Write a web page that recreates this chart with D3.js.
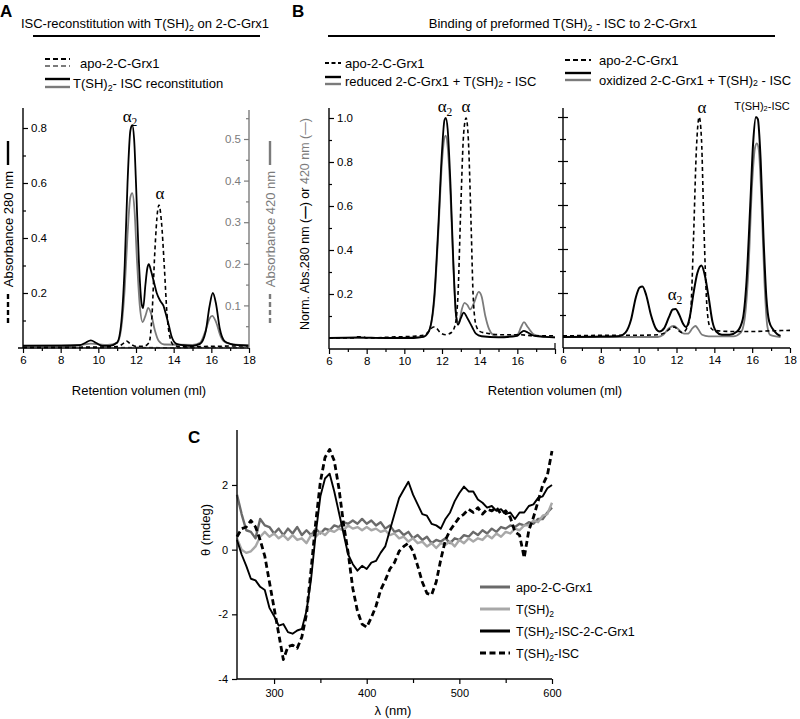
<!DOCTYPE html>
<html><head><meta charset="utf-8">
<script src="https://cdn.jsdelivr.net/npm/d3@7/dist/d3.min.js"></script>
<style>
body{margin:0;background:#fff}
svg{font-family:"Liberation Sans",Arial,sans-serif}
</style>
</head><body>
<svg id="fig" width="800" height="719"></svg>
<script>
// ---- panel A : ISC reconstitution (retention ml, absorbance) ----
const aRecon280 = [[6,0.008],[7,0.008],[8,0.008],[9,0.01],[9.3,0.018],[9.6,0.028],[9.9,0.018],[10.2,0.008],[10.6,0.008],[11.0,0.02],[11.2,0.08],[11.4,0.3],[11.55,0.6],[11.7,0.79],[11.8,0.81],[11.9,0.76],[12.0,0.6],[12.15,0.32],[12.3,0.16],[12.38,0.145],[12.5,0.23],[12.6,0.29],[12.68,0.305],[12.8,0.28],[12.95,0.24],[13.1,0.2],[13.3,0.17],[13.45,0.155],[13.6,0.12],[13.75,0.08],[13.9,0.04],[14.15,0.015],[14.5,0.01],[15.0,0.008],[15.4,0.015],[15.7,0.06],[15.9,0.15],[16.08,0.2],[16.25,0.16],[16.45,0.07],[16.7,0.025],[17,0.015],[17.5,0.01],[18,0.008]];
const aRecon420 = [[6,0.004],[9,0.005],[9.6,0.008],[10.5,0.005],[11,0.01],[11.2,0.04],[11.4,0.14],[11.55,0.27],[11.7,0.36],[11.8,0.37],[11.92,0.33],[12.05,0.21],[12.2,0.1],[12.35,0.06],[12.5,0.075],[12.65,0.094],[12.8,0.08],[13.0,0.04],[13.2,0.015],[13.5,0.006],[15,0.005],[15.4,0.01],[15.7,0.04],[15.9,0.068],[16.05,0.075],[16.25,0.06],[16.5,0.025],[16.8,0.01],[17.5,0.005],[18,0.005]];
const aApo280 = [[6,0.003],[9,0.003],[11,0.005],[11.3,0.015],[11.5,0.025],[11.7,0.015],[12.0,0.006],[12.4,0.006],[12.7,0.02],[12.85,0.12],[13.0,0.35],[13.15,0.5],[13.22,0.52],[13.35,0.46],[13.5,0.3],[13.65,0.12],[13.8,0.04],[14.0,0.01],[14.5,0.004],[16,0.006],[18,0.008]];
const aApo420 = [[6,-0.002],[10,-0.002],[12,-0.001],[14,-0.002],[16,-0.001],[18,-0.002]];

// ---- panel B : preformed T(SH)2-ISC, normalised ----
const bRedApo = [[6,0],[7.3,0],[7.5,0.005],[7.8,0.005],[8,0],[9.5,0.005],[10.5,0.008],[11.0,0.012],[11.3,0.03],[11.55,0.05],[11.7,0.045],[11.9,0.025],[12.2,0.015],[12.5,0.025],[12.7,0.06],[12.85,0.2],[13.0,0.6],[13.15,0.93],[13.28,1.0],[13.4,0.9],[13.55,0.5],[13.65,0.2],[13.8,0.06],[14.0,0.03],[14.5,0.02],[15,0.015],[16,0.015],[17,0.01],[18,0.01]];
const bRed280 = [[6,0],[7.5,0.003],[9,0],[10.5,0],[11.0,0.005],[11.3,0.03],[11.6,0.2],[11.8,0.5],[12.0,0.85],[12.13,0.99],[12.2,1.0],[12.3,0.95],[12.45,0.7],[12.6,0.35],[12.75,0.1],[12.85,0.06],[13.0,0.09],[13.15,0.115],[13.35,0.09],[13.6,0.05],[13.8,0.02],[14.1,0.008],[15,0.003],[16,0.01],[16.2,0.025],[16.35,0.032],[16.55,0.025],[16.9,0.01],[17.5,0.005],[18,0.003]];
const bRed420 = [[6,0],[9,0],[11.0,0.005],[11.3,0.03],[11.6,0.18],[11.8,0.47],[12.0,0.8],[12.13,0.91],[12.2,0.92],[12.3,0.87],[12.45,0.65],[12.6,0.33],[12.75,0.1],[12.9,0.07],[13.05,0.13],[13.2,0.16],[13.35,0.15],[13.5,0.13],[13.7,0.16],[13.95,0.21],[14.1,0.19],[14.3,0.1],[14.5,0.04],[14.7,0.015],[15,0.005],[16,0.015],[16.2,0.05],[16.35,0.072],[16.55,0.05],[16.9,0.015],[17.5,0.005],[18,0.003]];
const bOxApo = [[6,0.005],[9,0.008],[10,0.008],[11,0.01],[11.4,0.02],[11.7,0.04],[11.9,0.045],[12.1,0.03],[12.3,0.02],[12.55,0.04],[12.75,0.12],[12.9,0.45],[13.05,0.85],[13.2,1.0],[13.32,0.9],[13.45,0.5],[13.6,0.15],[13.75,0.05],[14.0,0.03],[15,0.025],[16,0.025],[17,0.028],[18,0.03]];
const bOx280 = [[6,0],[8,0.002],[9,0.005],[9.3,0.02],[9.6,0.08],[9.85,0.18],[10.05,0.225],[10.2,0.23],[10.4,0.19],[10.65,0.1],[10.9,0.04],[11.1,0.025],[11.35,0.04],[11.6,0.09],[11.8,0.125],[11.95,0.127],[12.15,0.1],[12.35,0.06],[12.5,0.045],[12.7,0.09],[12.9,0.2],[13.1,0.29],[13.32,0.325],[13.5,0.28],[13.7,0.18],[13.9,0.07],[14.1,0.025],[14.4,0.01],[14.8,0.01],[15.2,0.025],[15.5,0.08],[15.7,0.25],[15.9,0.6],[16.05,0.88],[16.2,1.0],[16.3,0.99],[16.45,0.8],[16.6,0.45],[16.75,0.18],[16.9,0.07],[17.1,0.035],[17.3,0.015],[17.5,0.005]];
const bOx420 = [[6,0],[11.0,0],[11.3,0.01],[11.6,0.04],[11.85,0.05],[12.1,0.035],[12.4,0.015],[12.6,0.015],[12.85,0.04],[13.0,0.05],[13.15,0.035],[13.35,0.01],[13.7,0.003],[15,0.003],[15.4,0.02],[15.6,0.08],[15.8,0.3],[16.0,0.7],[16.15,0.86],[16.25,0.88],[16.35,0.85],[16.5,0.6],[16.65,0.25],[16.8,0.05],[16.95,0.01],[17.5,0]];

// ---- panel C : CD spectra (nm, mdeg) ----
const wavelengths = [260,265,270,275,280,285,290,295,300,305,310,315,320,325,330,335,340,345,350,355,360,365,370,375,380,385,390,395,400,405,410,415,420,425,430,435,440,445,450,455,460,465,470,475,480,485,490,495,500,505,510,515,520,525,530,535,540,545,550,555,560,565,570,575,580,585,590,595,600];
const cdApo = [1.7,1.1,0.6,0.55,0.35,0.95,0.75,0.7,0.5,0.65,0.45,0.65,0.5,0.7,0.45,0.6,0.45,0.65,0.5,0.65,0.6,0.75,0.7,0.85,0.8,0.9,0.8,0.95,0.8,0.9,0.75,0.85,0.65,0.75,0.55,0.6,0.45,0.55,0.35,0.45,0.3,0.4,0.2,0.3,0.25,0.35,0.2,0.35,0.3,0.45,0.4,0.55,0.45,0.6,0.5,0.65,0.55,0.7,0.65,0.75,0.7,0.8,0.75,0.85,0.8,0.95,0.95,1.15,1.3];
const cdTSH = [0.35,0.0,-0.1,-0.05,0.1,0.4,0.55,0.4,0.5,0.35,0.45,0.3,0.45,0.3,0.35,0.2,0.45,0.4,0.55,0.45,0.6,0.55,0.65,0.6,0.75,0.65,0.7,0.6,0.7,0.6,0.65,0.55,0.6,0.45,0.5,0.35,0.4,0.25,0.35,0.2,0.25,0.1,0.2,0.05,0.2,0.15,0.25,0.1,0.3,0.2,0.35,0.25,0.35,0.3,0.45,0.35,0.5,0.4,0.55,0.5,0.65,0.6,0.75,0.75,0.9,0.85,1.05,1.1,1.45];
const cdIscGrx = [0.3,-0.15,-0.5,-0.9,-0.95,-1.15,-1.25,-1.8,-2.05,-2.35,-2.3,-2.55,-2.6,-2.5,-2.45,-1.9,-0.9,0.5,1.65,2.2,2.35,1.8,1.15,0.5,-0.15,-0.45,-0.65,-0.5,-0.6,-0.4,-0.35,-0.1,0.1,0.6,1.1,1.6,1.85,2.1,1.7,1.4,1.1,1.05,0.8,0.75,0.65,0.95,1.15,1.5,1.75,1.95,1.8,1.8,1.55,1.45,1.3,1.35,1.2,1.25,1.1,1.15,0.95,1.15,1.15,1.35,1.4,1.6,1.65,1.9,2.0];
const cdIsc = [0.4,0.65,0.7,0.9,0.7,0.3,-0.2,-1.0,-1.8,-2.6,-3.4,-3.0,-2.95,-3.05,-2.7,-2.0,-0.6,0.85,2.1,2.85,3.1,2.75,1.9,0.8,-0.1,-1.2,-1.9,-2.3,-2.4,-2.1,-1.75,-1.25,-0.95,-0.6,-0.4,-0.05,0.1,0.2,-0.05,-0.5,-1.0,-1.35,-1.4,-1.0,-0.3,0.3,0.6,0.8,1.0,1.1,1.25,1.15,1.3,1.1,1.25,1.2,1.3,1.1,1.2,1.0,0.55,0.45,-0.25,0.6,1.0,1.5,2.0,2.3,3.05];

const volTicks = [6,8,10,12,14,16,18];
const volMinor = [7,9,11,13,15,17];
const cdXTicks = [300,400,500,600];
const cdXMinor = [350,450,550];
const cdYTicks = [-4,-2,0,2];

const GREY = "#7b7b7b";
const svg = d3.select("#fig");

function txt(g, x, y, segs, o) {
  o = o || {};
  const t = g.append("text").attr("x", x).attr("y", y)
    .attr("font-size", o.size || 12.5).attr("fill", o.fill || "#000")
    .attr("text-anchor", o.anchor || "start");
  if (o.family) t.attr("font-family", o.family);
  if (o.weight) t.attr("font-weight", o.weight);
  if (o.rotate) t.attr("transform", "rotate(" + o.rotate + "," + x + "," + y + ")");
  segs.forEach(s => {
    if (typeof s === "string") { t.append("tspan").text(s); return; }
    const sp = t.append("tspan").text(s.t);
    if (s.sub) sp.attr("font-size", "0.68em").attr("dy", s.sub);
    if (s.fill) sp.attr("fill", s.fill);
    if (s.bold) sp.attr("font-weight", "bold");
    if (s.dy) sp.attr("dy", s.dy);
  });
  return t;
}
function seg(g, x1, y1, x2, y2, c, w, dash) {
  const l = g.append("line").attr("x1", x1).attr("y1", y1).attr("x2", x2).attr("y2", y2)
    .attr("stroke", c).attr("stroke-width", w || 1.5);
  if (dash) l.attr("stroke-dasharray", dash);
  return l;
}
function curve(g, data, x, y, c, w, dash, kind) {
  const p = g.append("path").datum(data)
    .attr("d", d3.line().x(d => x(d[0])).y(d => y(d[1])).curve(kind || d3.curveMonotoneX))
    .attr("fill", "none").attr("stroke", c).attr("stroke-width", w)
    .attr("stroke-linejoin", "round");
  if (dash) p.attr("stroke-dasharray", dash);
}
function tidy(sel, c, size) {
  sel.select(".domain").remove();
  sel.selectAll(".tick line").attr("stroke", c).attr("stroke-width", 1.2);
  sel.selectAll(".tick text").attr("fill", c).attr("font-size", size || 11.5)
    .attr("font-family", "Liberation Sans, Arial, sans-serif");
}
function volAxis(g, x, yPos, labelled) {
  const a = g.append("g").attr("transform", "translate(0," + yPos + ")")
    .call(d3.axisBottom(x).tickValues(volTicks).tickSize(5).tickPadding(3)
      .tickFormat(d => labelled.includes(d) ? d : ""));
  tidy(a, "#000");
  const m = g.append("g").attr("transform", "translate(0," + yPos + ")")
    .call(d3.axisBottom(x).tickValues(volMinor).tickSize(3).tickFormat(""));
  tidy(m, "#000");
}
function yTicks(g, axisFn, y, xPos, major, minor, c, labels) {
  const a = g.append("g").attr("transform", "translate(" + xPos + ",0)")
    .call(axisFn(y).tickValues(major).tickSize(5).tickPadding(3)
      .tickFormat(labels ? d3.format(".1f") : ""));
  tidy(a, c);
  const m = g.append("g").attr("transform", "translate(" + xPos + ",0)")
    .call(axisFn(y).tickValues(minor).tickSize(3).tickFormat(""));
  tidy(m, c);
}

// ---------------- Panel A ----------------
const gA = svg.append("g");
txt(gA, 0, 17, ["A"], {size: 17, weight: "bold"});
txt(gA, 145, 28, ["ISC-reconstitution with T(SH)", {t: "2", sub: 3}, {t: " on 2-C-Grx1", dy: -3}], {size: 13, anchor: "middle"});
seg(gA, 33, 36, 260, 36, "#000", 2);
seg(gA, 45, 59, 70, 59, "#000", 2, "5,3");
seg(gA, 45, 66, 70, 66, GREY, 2, "5,3");
txt(gA, 80, 68, ["apo-2-C-Grx1"], {size: 13});
seg(gA, 45, 79, 70, 79, "#000", 2.4);
seg(gA, 45, 87, 70, 87, GREY, 2.4);
txt(gA, 73, 88, ["T(SH)", {t: "2", sub: 3}, {t: "- ISC reconstitution", dy: -3}], {size: 13});

const xA = d3.scaleLinear().domain([6, 18]).range([23, 249]);
const yA = d3.scaleLinear().domain([0, 0.8]).range([348, 128]);
const yA2 = d3.scaleLinear().domain([0, 0.5]).range([347, 139]);

curve(gA, aApo420, xA, yA2, GREY, 1.6, "4,3");
curve(gA, aRecon420, xA, yA2, GREY, 1.8);
curve(gA, aApo280, xA, yA, "#000", 1.6, "4,3");
curve(gA, aRecon280, xA, yA, "#000", 1.8);

seg(gA, 18, 348, 249, 348, "#000", 1.4);
seg(gA, 23, 348, 23, 108, "#000", 1.4);
seg(gA, 249, 348, 249, 110, GREY, 1.4);
volAxis(gA, xA, 348, volTicks);
yTicks(gA, d3.axisRight, yA, 23, [0.2, 0.4, 0.6, 0.8], [0.1, 0.3, 0.5, 0.7], "#000", true);
yTicks(gA, d3.axisLeft, yA2, 249, [0.1, 0.2, 0.3, 0.4, 0.5], [0.05, 0.15, 0.25, 0.35, 0.45, 0.55], GREY, true);

txt(gA, 139, 395, ["Retention volumen (ml)"], {size: 13, anchor: "middle"});
// y labels with line glyphs
function yLabel(g, x, cy, label, c) {
  const r = g.append("g").attr("transform", "translate(" + x + "," + cy + ") rotate(-90)");
  txt(r, 0, 5, [label], {size: 13, anchor: "middle", fill: c});
  seg(r, -94, 0, -65, 0, c, 2.4, "5,3");
  seg(r, 64, 0, 88, 0, c, 2.4);
}
yLabel(gA, 8, 229, "Absorbance 280 nm", "#000");
yLabel(gA, 270, 229, "Absorbance 420 nm", GREY);

txt(gA, 130, 122, ["α", {t: "2", sub: 4}], {size: 17, anchor: "middle", family: "Liberation Serif, serif"});
txt(gA, 160, 199, ["α"], {size: 17, anchor: "middle", family: "Liberation Serif, serif"});

// ---------------- Panel B ----------------
const gB = svg.append("g");
txt(gB, 292, 17, ["B"], {size: 17, weight: "bold"});
txt(gB, 563, 28, ["Binding of preformed T(SH)", {t: "2", sub: 3}, {t: " - ISC to 2-C-Grx1", dy: -3}], {size: 13, anchor: "middle"});
seg(gB, 328, 36, 775, 36, "#000", 2);

seg(gB, 325, 63, 341, 63, "#000", 2, "4,2.5");
txt(gB, 345, 68, ["apo-2-C-Grx1"], {size: 13});
seg(gB, 325, 77, 341, 77, "#000", 2.4);
seg(gB, 325, 84, 341, 84, GREY, 2.4);
txt(gB, 345, 86, ["reduced 2-C-Grx1 + T(SH)", {t: "2", sub: 1}, {t: " - ISC", dy: -1}], {size: 13});

seg(gB, 565, 60, 591, 60, "#000", 2, "5,3");
txt(gB, 599, 65, ["apo-2-C-Grx1"], {size: 13});
seg(gB, 565, 73, 591, 73, "#000", 2.4);
seg(gB, 565, 80, 591, 80, GREY, 2.4);
txt(gB, 599, 85, ["oxidized 2-C-Grx1 + T(SH)", {t: "2", sub: 1}, {t: " - ISC", dy: -1}], {size: 13});

const xB1 = d3.scaleLinear().domain([6, 18]).range([329, 555]);
const yB1 = d3.scaleLinear().domain([0, 1]).range([338, 118]);
const xB2 = d3.scaleLinear().domain([6, 18]).range([563, 790]);
const yB2 = d3.scaleLinear().domain([0, 1]).range([337, 117]);

curve(gB, bRed420, xB1, yB1, GREY, 1.8);
curve(gB, bRed280, xB1, yB1, "#000", 1.8);
curve(gB, bRedApo, xB1, yB1, "#000", 1.6, "4,3");
curve(gB, bOx420, xB2, yB2, GREY, 1.8);
curve(gB, bOx280, xB2, yB2, "#000", 2);
curve(gB, bOxApo, xB2, yB2, "#000", 1.6, "4,3");

seg(gB, 329, 349, 555, 349, "#000", 1.4);
seg(gB, 555, 349, 555, 343, "#000", 1.2);
seg(gB, 329, 349, 329, 108, "#000", 1.4);
volAxis(gB, xB1, 349, [6, 8, 10, 12, 14, 16]);
yTicks(gB, d3.axisRight, yB1, 329, [0.2, 0.4, 0.6, 0.8, 1.0], [0.1, 0.3, 0.5, 0.7, 0.9], "#000", true);

seg(gB, 563, 348, 790, 348, "#000", 1.4);
seg(gB, 563, 348, 563, 108, "#000", 1.4);
volAxis(gB, xB2, 348, volTicks);
yTicks(gB, d3.axisRight, yB2, 563, [0.2, 0.4, 0.6, 0.8, 1.0], [0.1, 0.3, 0.5, 0.7, 0.9], "#000", false);
yTicks(gB, d3.axisLeft, yB2, 563, [0.2, 0.4, 0.6, 0.8, 1.0], [0.1, 0.3, 0.5, 0.7, 0.9], "#000", false);

txt(gB, 555, 395, ["Retention volumen (ml)"], {size: 13, anchor: "middle"});
txt(gB, 309, 224, ["Norm. Abs.280 nm (", {t: "—", bold: true}, ") or ", {t: "420 nm (—)", fill: GREY}],
  {size: 12.5, anchor: "middle", rotate: -90});

const serif = "Liberation Serif, serif";
txt(gB, 445, 112, ["α", {t: "2", sub: 4}], {size: 17, anchor: "middle", family: serif});
txt(gB, 466, 112, ["α"], {size: 17, anchor: "middle", family: serif});
txt(gB, 702, 113, ["α"], {size: 17, anchor: "middle", family: serif});
txt(gB, 675, 300, ["α", {t: "2", sub: 4}], {size: 17, anchor: "middle", family: serif});
txt(gB, 762, 110, ["T(SH)", {t: "2", sub: 1}, {t: "-ISC", dy: -1}], {size: 11, anchor: "middle"});

// ---------------- Panel C ----------------
const gC = svg.append("g");
txt(gC, 188, 443, ["C"], {size: 17, weight: "bold"});
const xC = d3.scaleLinear().domain([260, 600]).range([237, 552]);
const yC = d3.scaleLinear().domain([-4, 3.7]).range([679, 430]);
const pts = s => wavelengths.map((w, i) => [w, s[i]]);

curve(gC, pts(cdApo), xC, yC, "#6a6a6a", 2.4, null, d3.curveLinear);
curve(gC, pts(cdTSH), xC, yC, "#a8a8a8", 2.4, null, d3.curveLinear);
curve(gC, pts(cdIscGrx), xC, yC, "#000", 1.9, null, d3.curveLinear);
curve(gC, pts(cdIsc), xC, yC, "#000", 2.8, "6,3.5", d3.curveLinear);

seg(gC, 237, 679, 552, 679, "#000", 1.4);
seg(gC, 237, 679, 237, 430, "#000", 1.4);
const cx = gC.append("g").attr("transform", "translate(0,679)")
  .call(d3.axisBottom(xC).tickValues(cdXTicks).tickSize(5).tickPadding(5));
tidy(cx, "#000", 11);
const cxm = gC.append("g").attr("transform", "translate(0,679)")
  .call(d3.axisBottom(xC).tickValues(cdXMinor).tickSize(4).tickFormat(""));
tidy(cxm, "#000");
const cy = gC.append("g").attr("transform", "translate(237,0)")
  .call(d3.axisLeft(yC).tickValues(cdYTicks).tickSize(5).tickPadding(4).tickFormat(d => String(d)));
tidy(cy, "#000", 11);

txt(gC, 210, 530, ["θ (mdeg)"], {size: 13, anchor: "middle", rotate: -90});
txt(gC, 393, 715, ["λ (nm)"], {size: 13, anchor: "middle"});

const cLegend = [
  {label: ["apo-2-C-Grx1"], c: "#6a6a6a", w: 3, dash: null},
  {label: ["T(SH)", {t: "2", sub: 3}], c: "#a8a8a8", w: 3, dash: null},
  {label: ["T(SH)", {t: "2", sub: 3}, {t: "-ISC-2-C-Grx1", dy: -3}], c: "#000", w: 3, dash: null},
  {label: ["T(SH)", {t: "2", sub: 3}, {t: "-ISC", dy: -3}], c: "#000", w: 3, dash: "6,3.5"}
];
cLegend.forEach((d, i) => {
  const yy = 587 + i * 22;
  seg(gC, 480, yy, 510, yy, d.c, d.w, d.dash);
  txt(gC, 516, yy + 5, d.label, {size: 12.5});
});
</script>
</body></html>
